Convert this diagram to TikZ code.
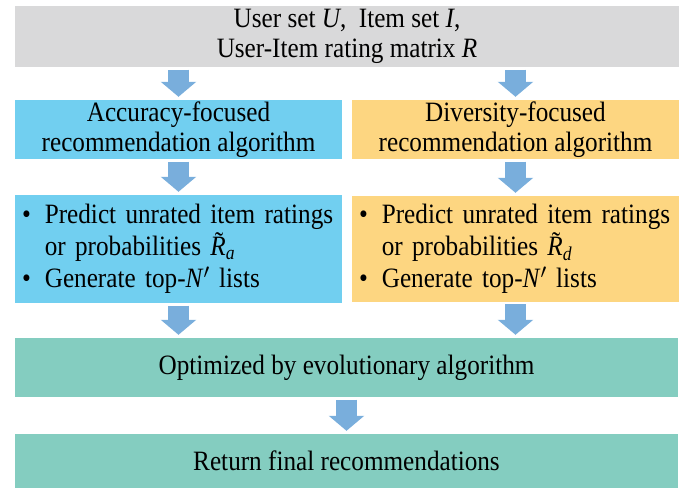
\documentclass[tikz,border=0pt]{standalone}
\usepackage{fontspec}
\setmainfont[FakeStretch=0.9]{Liberation Serif}
\usepackage{xcolor}
\usetikzlibrary{arrows.meta}

\definecolor{InputGray}{HTML}{D9D9DA}
\definecolor{AccBlue}{HTML}{71CFF0}
\definecolor{DivOrange}{HTML}{FDD681}
\definecolor{EvoTeal}{HTML}{84CDC0}
\definecolor{ArrowBlue}{HTML}{79AEDC}

\newcommand{\tildeR}{\textit{R}\llap{\raisebox{0.14em}{\char"02DC}\hspace{0.09em}}}

\begin{document}
\begin{tikzpicture}[x=1pt, y=1pt,
	box/.style={inner sep=0pt, minimum width=#1, font=\fontsize{28}{30}\selectfont, align=center},
	listbox/.style={inner xsep=7pt, inner ysep=0pt, minimum width=327pt, text width=313pt, font=\fontsize{28}{32}\selectfont, align=left},
	blockarrow/.style={draw=ArrowBlue, line width=21.7pt, -{Triangle[width=34.7pt, length=15pt]}, shorten <=2.5pt, shorten >=3pt}]
	\useasboundingbox (0,0) rectangle (696,489);

	\node[box=664pt, minimum height=60.7pt, fill=InputGray] (input) at (347,452.5) {User set \textit{U},~ Item set \textit{I},\\User-Item rating matrix \textit{R}};

	\node[box=327pt, minimum height=59pt, fill=AccBlue] (accalgo) at (178.5,359.5) {Accuracy-focused\\recommendation algorithm};
	\node[box=327pt, minimum height=59pt, fill=DivOrange] (divalgo) at (515.5,359.5) {Diversity-focused\\recommendation algorithm};

	\node[listbox, minimum height=108pt, fill=AccBlue] (acclist) at (178.5,240) {\textbullet\hspace{14pt}Predict unrated item ratings\\\hphantom{\textbullet}\hspace{14pt}or probabilities \tildeR\textsubscript{\textit{a}}\\\textbullet\hspace{14pt}Generate top-\textit{N}$'$ lists};
	\node[listbox, minimum height=105.7pt, fill=DivOrange] (divlist) at (515.5,240.15) {\textbullet\hspace{14pt}Predict unrated item ratings\\\hphantom{\textbullet}\hspace{14pt}or probabilities \tildeR\textsubscript{\textit{d}}\\\textbullet\hspace{14pt}Generate top-\textit{N}$'$ lists};

	\node[box=663pt, minimum height=59pt, fill=EvoTeal] (evo) at (346.5,121.5) {Optimized by evolutionary algorithm};
	\node[box=663pt, minimum height=54pt, fill=EvoTeal] (final) at (346.5,28) {Return final recommendations};

	% flow arrows
	\draw[blockarrow] (accalgo.north |- input.south) -- (accalgo.north);
	\draw[blockarrow] (divalgo.north |- input.south) -- (divalgo.north);
	\draw[blockarrow] (accalgo.south) -- (acclist.north);
	\draw[blockarrow] (divalgo.south) -- (divlist.north);
	\draw[blockarrow] (acclist.south) -- (acclist.south |- evo.north);
	\draw[blockarrow] (divlist.south) -- (divlist.south |- evo.north);
	\draw[blockarrow] (evo.south) -- (final.north);

\end{tikzpicture}
\end{document}
